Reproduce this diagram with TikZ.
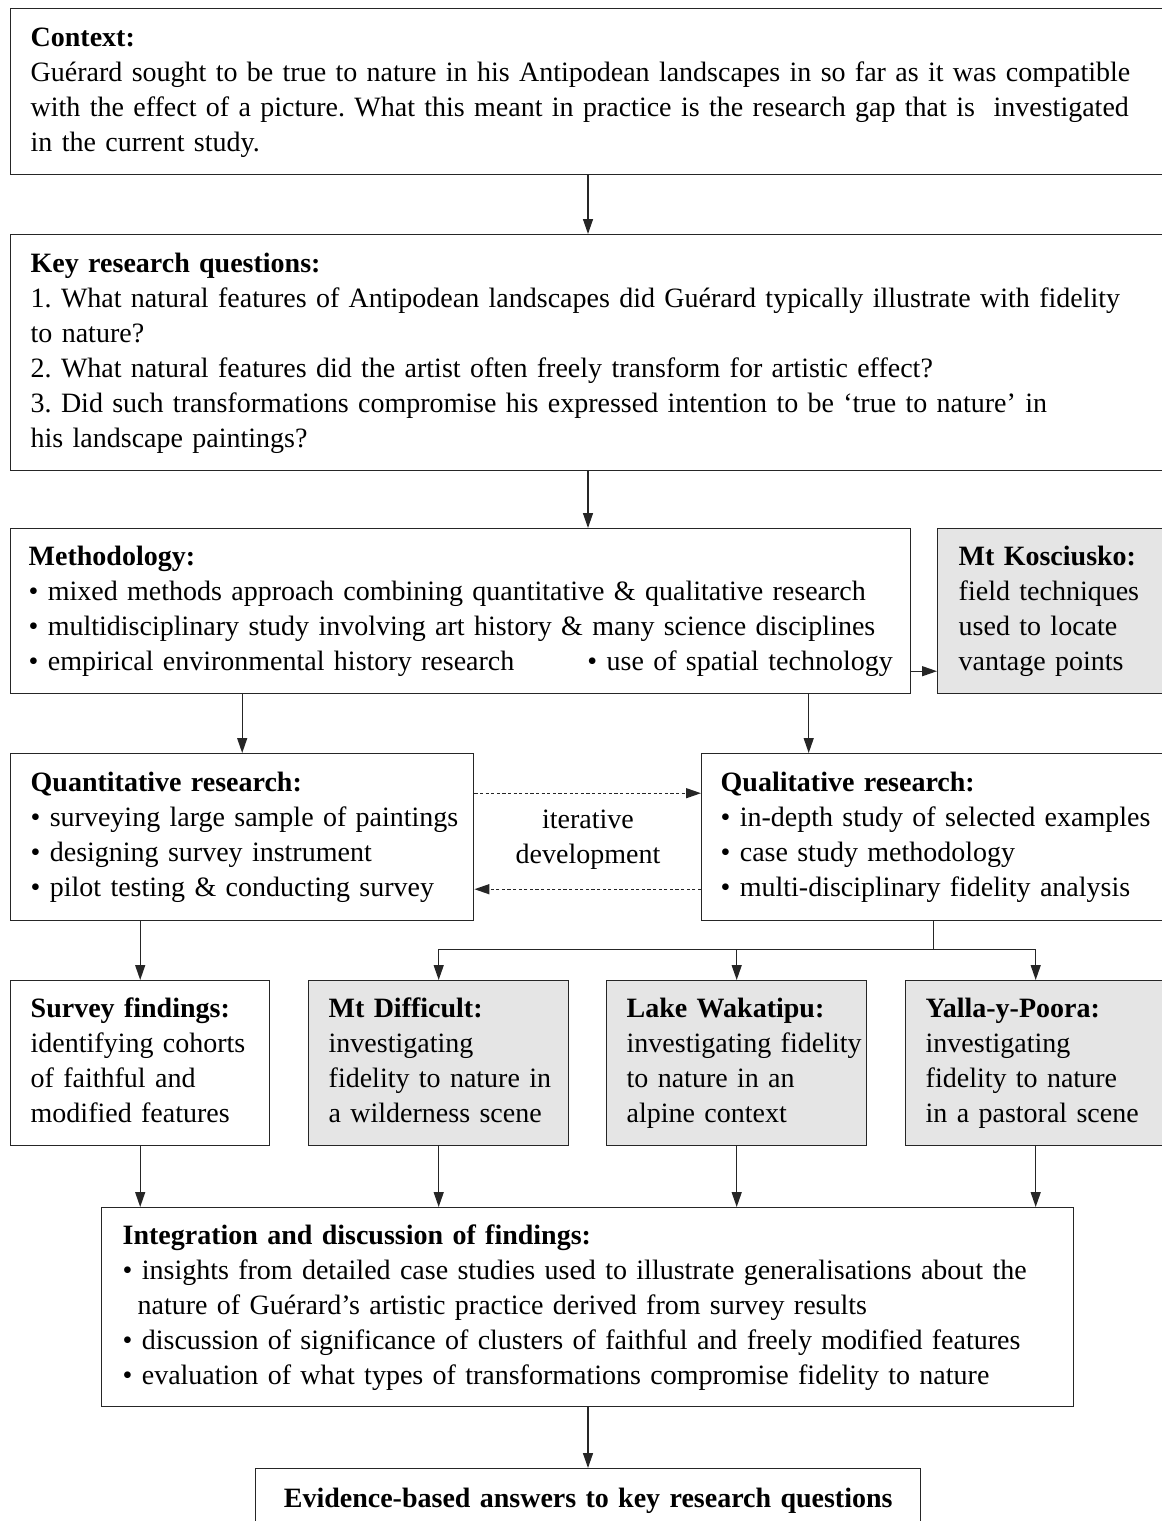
\documentclass[tikz,border=0pt]{standalone}
\usepackage{fontspec}
\setmainfont{Liberation Serif}
\usetikzlibrary{arrows.meta,positioning}

\newcommand{\boxlines}[1]{\begin{tabular}{@{}l@{}}#1\end{tabular}}

\tikzset{
  box/.style={draw=black!85, line width=0.7pt, align=left, anchor=north west,
    inner ysep=0pt, font=\fontsize{14}{17.5}\selectfont\frenchspacing,
    execute at begin node=\strut, execute at end node=\strut},
  greybox/.style={box, fill=black!10},
  arr/.style={draw=black!85, line width=0.7pt, -{Triangle[length=7.5pt,width=5pt]}},
  dotarr/.style={arr, dash pattern=on 1.6pt off 1.2pt}
}

\begin{document}
\begin{tikzpicture}[x=0.5pt,y=-0.5pt]
  \useasboundingbox (0,0) rectangle (1162,1521);
  \clip (0,0) rectangle (1162,1521);

  % Context and questions
  \node[box, inner xsep=10pt, text width=558pt, minimum height=83pt] (context) at (10,8)
    {\textbf{Context:}\\
     Guérard sought to be true to nature in his Antipodean landscapes in so far as it was compatible\\
     with the effect of a picture. What this meant in practice is the research gap that is \ investigated\\
     in the current study.};
  \node[box, inner xsep=10pt, text width=558pt, minimum height=118pt] (questions) at (10,234)
    {\textbf{Key research questions:}\\
     1. What natural features of Antipodean landscapes did Guérard typically illustrate with fidelity\\
     to nature?\\
     2. What natural features did the artist often freely transform for artistic effect?\\
     3. Did such transformations compromise his expressed intention to be ‘true to nature’ in\\
     his landscape paintings?};

  % Methodology
  \node[box, inner xsep=9pt, text width=432pt, minimum height=82.5pt] (methods) at (10,528)
    {\textbf{Methodology:}\\
     \textbullet\ mixed methods approach combining quantitative \& qualitative research\\
     \textbullet\ multidisciplinary study involving art history \& many science disciplines\\
     \textbullet\ empirical environmental history research \hfill \textbullet\ use of spatial technology};
  \node[greybox, inner xsep=10.5pt, text width=93.5pt, minimum height=82.5pt] (kosciusko) at (937,528)
    {\boxlines{\textbf{Mt Kosciusko:}\\ field techniques\\ used to locate\\ vantage points}};

  % Research strands
  \node[box, inner xsep=10pt, text width=211.5pt, minimum height=83.5pt] (quant) at (10,753)
    {\boxlines{\textbf{Quantitative research:}\\
     \textbullet\ surveying large sample of paintings\\
     \textbullet\ designing survey instrument\\
     \textbullet\ pilot testing \& conducting survey}};
  \node[box, inner xsep=9.5pt, text width=213pt, minimum height=83.5pt] (qual) at (701,753)
    {\boxlines{\textbf{Qualitative research:}\\
     \textbullet\ in-depth study of selected examples\\
     \textbullet\ case study methodology\\
     \textbullet\ multi-disciplinary fidelity analysis}};
  \node[align=center, font=\fontsize{14}{17.5}\selectfont] (iterative) at (588,840)
    {iterative\\development};

  % Findings and case studies
  \node[box, inner xsep=10pt, text width=109.5pt, minimum height=82.5pt] (survey) at (10,980)
    {\boxlines{\textbf{Survey findings:}\\ identifying cohorts\\ of faithful and\\ modified features}};
  \node[greybox, inner xsep=10pt, text width=110pt, minimum height=82.5pt] (difficult) at (308,980)
    {\boxlines{\textbf{Mt Difficult:}\\ investigating\\ fidelity to nature in\\ a wilderness scene}};
  \node[greybox, inner xsep=10pt, text width=110pt, minimum height=82.5pt] (wakatipu) at (606,980)
    {\boxlines{\textbf{Lake Wakatipu:}\\ investigating fidelity\\ to nature in an\\ alpine context}};
  \node[greybox, inner xsep=10pt, text width=110pt, minimum height=82.5pt] (yalla) at (905,980)
    {\boxlines{\textbf{Yalla-y-Poora:}\\ investigating\\ fidelity to nature\\ in a pastoral scene}};

  % Integration and answers
  \node[box, inner xsep=10.5pt, text width=465pt, minimum height=99.5pt] (integration) at (101,1207)
    {\textbf{Integration and discussion of findings:}\\
     \textbullet\ insights from detailed case studies used to illustrate generalisations about the\\
     \hspace*{7.5pt}nature of Guérard’s artistic practice derived from survey results\\
     \textbullet\ discussion of significance of clusters of faithful and freely modified features\\
     \textbullet\ evaluation of what types of transformations compromise fidelity to nature};
  \node[box, align=center, inner xsep=0pt, text width=332.5pt, minimum height=32pt] (answers) at (255,1468)
    {\textbf{Evidence-based answers to key research questions}};

  % Connectors
  \coordinate (mid) at (588,0);
  \draw[arr] (context.south -| mid) -- (questions.north -| mid);
  \draw[arr] (questions.south -| mid) -- (methods.north -| mid);
  \draw[arr] ([yshift=-30pt]methods.east) -- ([yshift=-30pt]kosciusko.west);
  \draw[arr] (methods.south -| quant.north) -- (quant.north);
  \draw[arr] ([xshift=-62.5pt]qual.north |- methods.south) -- ([xshift=-62.5pt]qual.north);
  \draw[dotarr] ([yshift=22pt]quant.east) -- ([yshift=22pt]qual.west);
  \draw[dotarr] ([yshift=-26pt]qual.west) -- ([yshift=-26pt]quant.east);
  \draw[arr] (quant.south -| survey.north) -- (survey.north);
  \draw[line width=0.7pt, draw=black!85] (qual.south) -- ++(0,28) coordinate (fork);
  \draw[line width=0.7pt, draw=black!85] (fork -| difficult.north) -- (fork -| yalla.north);
  \foreach \n in {difficult,wakatipu,yalla}
    \draw[arr] (fork -| \n.north) -- (\n.north);
  \foreach \n in {survey,difficult,wakatipu,yalla}
    \draw[arr] (\n.south) -- (\n.south |- integration.north);
  \draw[arr] (integration.south -| mid) -- (answers.north -| mid);
\end{tikzpicture}
\end{document}
